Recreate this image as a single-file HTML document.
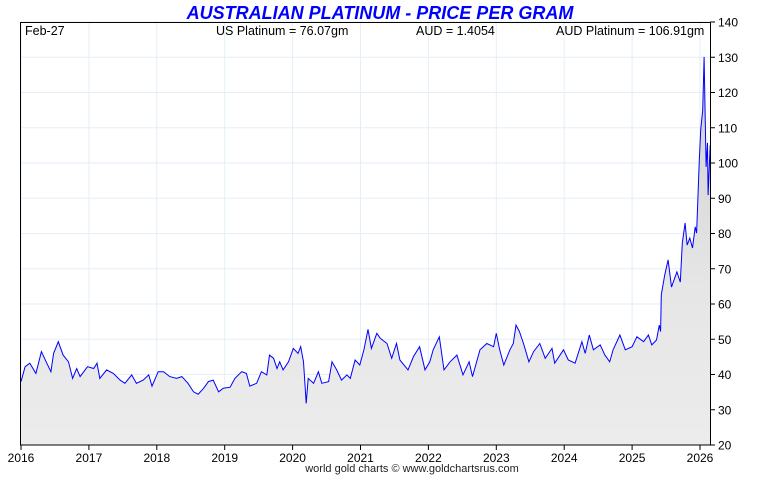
<!DOCTYPE html>
<html><head><meta charset="utf-8"><style>
body{margin:0;background:#fff;width:760px;height:475px;overflow:hidden;font-family:"Liberation Sans",sans-serif}
svg text{font-family:"Liberation Sans",sans-serif}
</style></head><body>
<svg id="chart" width="760" height="475" xmlns="http://www.w3.org/2000/svg">
<defs><linearGradient id="fg" x1="0" y1="0" x2="0" y2="1"><stop offset="0" stop-color="#cfcfcf"/><stop offset="0.6" stop-color="#e6e6e6"/><stop offset="1" stop-color="#ececec"/></linearGradient></defs>
<text x="380" y="19" text-anchor="middle" font-size="18" font-weight="bold" font-style="italic" fill="#0000ff">AUSTRALIAN PLATINUM - PRICE PER GRAM</text>
<g id="grid"></g>
<path id="area" fill="url(#fg)"/>
<path id="line" fill="none" stroke="#0000ff" stroke-width="1"/>
<rect x="20.5" y="22.5" width="690" height="422.5" fill="none" stroke="#000"/>
<g id="axes"></g>
<text x="25" y="35" font-size="12.5" fill="#000">Feb-27</text>
<text x="216" y="35" font-size="12.5" fill="#000">US Platinum = 76.07gm</text>
<text x="416" y="35" font-size="12.5" fill="#000">AUD = 1.4054</text>
<text x="556" y="35" font-size="12.5" fill="#000">AUD Platinum = 106.91gm</text>
<text x="412" y="472" text-anchor="middle" font-size="11" fill="#222">world gold charts © www.goldchartsrus.com</text>
</svg>
<script>
const years=[2016,2017,2018,2019,2020,2021,2022,2023,2024,2025,2026];
const yTicks=[20,30,40,50,60,70,80,90,100,110,120,130,140];
const dates=[2016.0,2016.06,2016.13,2016.22,2016.30,2016.38,2016.44,2016.48,2016.55,2016.62,2016.70,2016.76,2016.82,2016.87,2016.98,2017.07,2017.12,2017.16,2017.26,2017.36,2017.46,2017.53,2017.63,2017.70,2017.80,2017.88,2017.93,2018.02,2018.10,2018.19,2018.29,2018.37,2018.46,2018.54,2018.61,2018.69,2018.76,2018.83,2018.91,2018.98,2019.08,2019.15,2019.25,2019.32,2019.37,2019.47,2019.54,2019.62,2019.66,2019.72,2019.77,2019.81,2019.86,2019.94,2020.01,2020.08,2020.12,2020.16,2020.20,2020.23,2020.31,2020.38,2020.43,2020.53,2020.58,2020.65,2020.72,2020.80,2020.85,2020.92,2020.99,2021.05,2021.11,2021.16,2021.24,2021.29,2021.39,2021.46,2021.53,2021.58,2021.70,2021.78,2021.87,2021.95,2022.02,2022.07,2022.16,2022.23,2022.32,2022.42,2022.51,2022.60,2022.65,2022.76,2022.86,2022.96,2023.00,2023.05,2023.11,2023.20,2023.25,2023.29,2023.34,2023.40,2023.48,2023.55,2023.64,2023.72,2023.82,2023.86,2023.99,2024.06,2024.16,2024.26,2024.31,2024.37,2024.43,2024.53,2024.60,2024.67,2024.72,2024.82,2024.90,2025.00,2025.07,2025.17,2025.24,2025.29,2025.36,2025.40,2025.42,2025.43,2025.48,2025.53,2025.58,2025.66,2025.71,2025.74,2025.78,2025.81,2025.85,2025.89,2025.93,2025.95,2025.99,2026.01,2026.04,2026.06,2026.09,2026.11,2026.12,2026.15];
const prices=[38.0,42.2,43.2,40.3,46.5,43.2,40.8,46.0,49.3,45.5,43.6,38.9,41.7,39.4,42.2,41.7,43.2,38.9,41.3,40.3,38.4,37.5,39.9,37.5,38.4,39.9,36.7,40.8,40.8,39.4,38.9,39.4,37.5,35.1,34.4,36.1,38.0,38.4,35.1,36.1,36.4,38.9,40.8,40.3,36.7,37.5,40.8,39.9,45.5,44.6,41.7,43.6,41.3,43.6,47.4,46.0,47.9,43.6,31.8,38.9,37.5,40.8,37.5,38.0,43.6,41.3,38.4,39.9,38.9,44.1,42.7,47.0,52.8,47.4,51.7,50.3,48.8,44.6,48.8,44.1,41.3,45.1,47.9,41.3,43.6,47.0,50.7,41.3,43.6,45.5,39.9,43.6,39.4,47.0,48.8,47.9,51.7,47.0,42.7,47.0,48.8,54.0,52.2,48.8,43.6,46.5,48.8,44.6,47.4,43.2,47.0,44.1,43.2,49.3,46.0,51.2,47.0,48.4,45.5,43.6,47.0,51.2,47.0,47.9,50.7,49.3,51.2,48.4,49.8,54.0,52.2,62.6,68.2,72.5,64.8,69.1,66.2,77.3,83.0,76.7,78.7,75.9,81.9,80.1,100.8,109.4,115.0,130.1,98.9,105.7,90.9,105.1];
const X=v=>21+(v-2016)*67.9;
const Y=v=>445-(v-20)*3.525;
const NS='http://www.w3.org/2000/svg';
const grid=document.getElementById('grid'),axes=document.getElementById('axes');
function mk(tag,attrs,parent){const e=document.createElementNS(NS,tag);for(const k in attrs)e.setAttribute(k,attrs[k]);parent.appendChild(e);return e;}
yTicks.forEach(t=>{const y=Y(t);
 const g=mk('line',{x1:21,x2:710,y1:y,y2:y,stroke:'#e3eef8','stroke-width':1},grid);
 
 
 mk('line',{x1:710,x2:715,y1:y,y2:y,stroke:'#000'},axes);
 const tx=mk('text',{x:718,y:y+4.5,'font-size':12,fill:'#000'},axes);tx.textContent=t;
 
 
});
years.forEach(yr=>{const x=X(yr);
 const g=mk('line',{x1:x,x2:x,y1:22,y2:445,stroke:'#e3eef8','stroke-width':1},grid);
 
 
 mk('line',{x1:x,x2:x,y1:445,y2:450,stroke:'#000'},axes);
 const tx=mk('text',{x:x,y:462,'font-size':12,fill:'#000','text-anchor':'middle'},axes);tx.textContent=yr;
 
 
});
let d='';dates.forEach((t,i)=>{d+=(i?'L':'M')+X(t).toFixed(1)+' '+Y(prices[i]).toFixed(1);});
document.getElementById('line').setAttribute('d',d);
document.getElementById('area').setAttribute('d',d+'L'+X(dates[dates.length-1]).toFixed(1)+' 445L'+X(dates[0]).toFixed(1)+' 445Z');
</script>
</body></html>
